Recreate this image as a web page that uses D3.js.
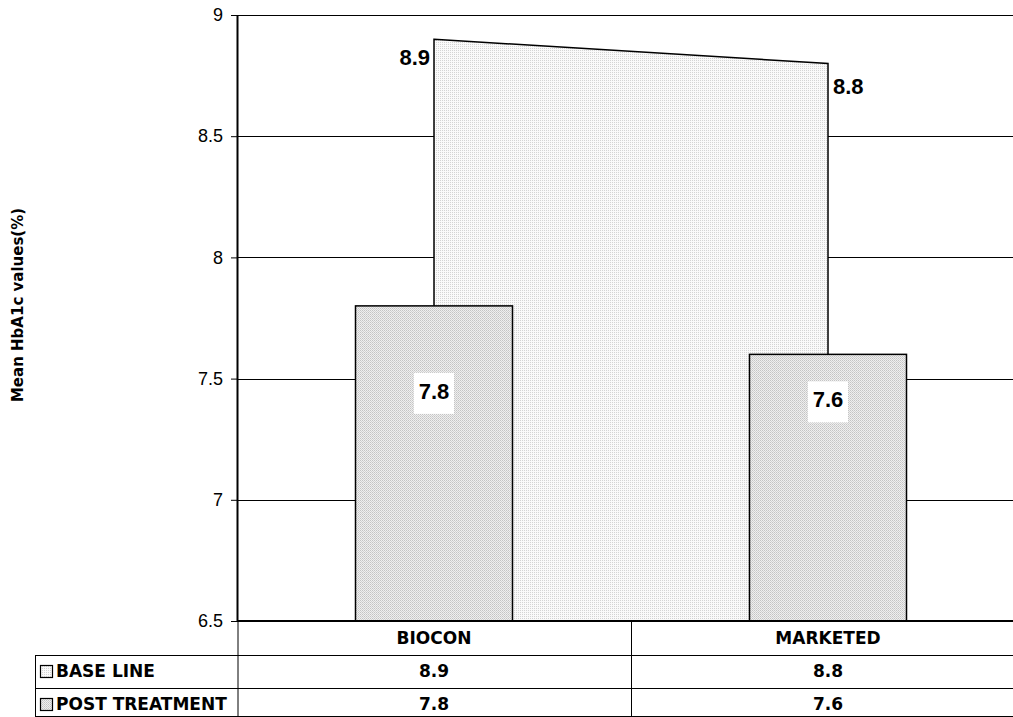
<!DOCTYPE html>
<html>
<head>
<meta charset="utf-8">
<script src="https://cdn.jsdelivr.net/npm/d3@7"></script>
<style>
  body { margin: 0; background: #fff; }
  svg { display: block; }
</style>
</head>
<body>
<svg width="1013" height="717"></svg>
<script>
// data
var categories = ['BIOCON', 'MARKETED'];
var baseLine = [8.9, 8.8];
var postTreatment = [7.8, 7.6];
var seriesNames = ['BASE LINE', 'POST TREATMENT'];
var yTicks = [6.5, 7, 7.5, 8, 8.5, 9];

var svg = d3.select('svg');
var plotLeft = 237, plotRight = 1025, plotTop = 15, plotBottom = 621;

var defs = svg.append('defs');
// light stipple for the area
var p1 = defs.append('pattern').attr('id', 'dotsLight')
  .attr('width', 2).attr('height', 2).attr('patternUnits', 'userSpaceOnUse');
p1.append('rect').attr('width', 2).attr('height', 2).attr('fill', '#fafafa');
p1.append('rect').attr('width', 1).attr('height', 1).attr('fill', '#d4d4d4');
// darker stipple for bars
var p2 = defs.append('pattern').attr('id', 'dotsDark')
  .attr('width', 2).attr('height', 2).attr('patternUnits', 'userSpaceOnUse');
p2.append('rect').attr('width', 2).attr('height', 2).attr('fill', '#efefef');
p2.append('rect').attr('width', 1).attr('height', 1).attr('fill', '#c4c4c4');
p2.append('rect').attr('x', 1).attr('y', 1).attr('width', 1).attr('height', 1).attr('fill', '#d2d2d2');

var x = d3.scaleBand().domain(categories).range([plotLeft, plotRight]);
var y = d3.scaleLinear().domain([6.5, 9]).range([plotBottom, plotTop]);
var cx = function (d) { return x(d) + x.bandwidth() / 2; };

// gridlines
svg.append('g').selectAll('line').data(yTicks.slice(1)).enter().append('line')
  .attr('x1', plotLeft).attr('x2', plotRight)
  .attr('y1', function (d) { return Math.round(y(d)) + 0.5; })
  .attr('y2', function (d) { return Math.round(y(d)) + 0.5; })
  .attr('stroke', '#000').attr('stroke-width', 1);

// y axis
var yAxis = svg.append('g').attr('transform', 'translate(' + plotLeft + ',0)')
  .call(d3.axisLeft(y).tickValues(yTicks).tickSize(6).tickPadding(8).tickFormat(d3.format('')));
yAxis.select('.domain').attr('stroke-width', 2).attr('d', 'M0.5,' + plotTop + 'V' + plotBottom);
yAxis.selectAll('text')
  .style('font-family', '"Liberation Sans", Arial, sans-serif')
  .style('font-size', '18px').attr('fill', '#000');

// base line area
var pts = categories.map(function (c, i) { return [cx(c), y(baseLine[i])]; });
var area = d3.area().x(function (d) { return d[0]; }).y0(plotBottom).y1(function (d) { return d[1]; });
svg.append('path').datum(pts).attr('d', area)
  .attr('fill', 'url(#dotsLight)').attr('stroke', '#000').attr('stroke-width', 1.5);

// post treatment bars
var bw = 157;
svg.append('g').selectAll('rect').data(categories).enter().append('rect')
  .attr('x', function (d) { return cx(d) - bw / 2; })
  .attr('y', function (d, i) { return y(postTreatment[i]); })
  .attr('width', bw)
  .attr('height', function (d, i) { return plotBottom - y(postTreatment[i]); })
  .attr('fill', 'url(#dotsDark)').attr('stroke', '#000').attr('stroke-width', 1.5);

// x axis line
svg.append('line').attr('x1', plotLeft).attr('x2', plotRight).attr('y1', plotBottom).attr('y2', plotBottom)
  .attr('stroke', '#000').attr('stroke-width', 2);

// data labels
var lblFont = '"Liberation Sans", Arial, sans-serif';
svg.append('text').attr('x', cx(categories[0]) - 4).attr('y', y(baseLine[0]) + 26)
  .attr('text-anchor', 'end').style('font-family', lblFont).style('font-weight', 'bold')
  .style('font-size', '22px').text(baseLine[0]);
svg.append('text').attr('x', cx(categories[1]) + 5).attr('y', y(baseLine[1]) + 30.5)
  .attr('text-anchor', 'start').style('font-family', lblFont).style('font-weight', 'bold')
  .style('font-size', '22px').text(baseLine[1]);
var barLabelOffset = [93, 53];
categories.forEach(function (c, i) {
  var ly = y(postTreatment[i]) + barLabelOffset[i];
  svg.append('rect').attr('x', cx(c) - 20).attr('y', ly - 26).attr('width', 40).attr('height', 41)
    .attr('fill', '#fff');
  svg.append('text').attr('x', cx(c)).attr('y', ly)
    .attr('text-anchor', 'middle').style('font-family', lblFont).style('font-weight', 'bold')
    .style('font-size', '22px').text(postTreatment[i]);
});

// y axis title
svg.append('text').attr('transform', 'translate(23,305) rotate(-90)')
  .attr('text-anchor', 'middle').style('font-family', '"DejaVu Sans", Verdana, sans-serif')
  .style('font-weight', 'bold').style('font-size', '15px').text('Mean HbA1c values(%)');

// data table
var tblFont = '"DejaVu Sans", Verdana, sans-serif';
var rowY = [plotBottom, 655, 688, 716];
var tableLeft = 35;
var t = svg.append('g');
t.append('line').attr('x1', plotLeft + 1).attr('x2', plotLeft + 1).attr('y1', plotBottom).attr('y2', 717)
  .attr('stroke', '#000').attr('stroke-width', 1);
t.append('line').attr('x1', x(categories[1]) + 0.5).attr('x2', x(categories[1]) + 0.5).attr('y1', plotBottom).attr('y2', 717)
  .attr('stroke', '#000').attr('stroke-width', 1);
t.append('line').attr('x1', tableLeft + 0.5).attr('x2', tableLeft + 0.5).attr('y1', rowY[1]).attr('y2', 717)
  .attr('stroke', '#000').attr('stroke-width', 1);
[rowY[1], rowY[2], rowY[3]].forEach(function (yy) {
  t.append('line').attr('x1', tableLeft).attr('x2', plotRight).attr('y1', yy + 0.5).attr('y2', yy + 0.5)
    .attr('stroke', '#000').attr('stroke-width', 1);
});
categories.forEach(function (c) {
  t.append('text').attr('x', cx(c)).attr('y', rowY[0] + 23)
    .attr('text-anchor', 'middle').style('font-family', tblFont).style('font-weight', 'bold')
    .style('font-size', '17px').text(c);
});
var rows = [baseLine, postTreatment];
var keyFill = ['url(#dotsLight)', 'url(#dotsDark)'];
rows.forEach(function (vals, r) {
  var base = rowY[r + 1] + 22;
  t.append('rect').attr('x', 40.5).attr('y', base - 11.5).attr('width', 12).attr('height', 12)
    .attr('fill', keyFill[r]).attr('stroke', '#000').attr('stroke-width', 1.2);
  t.append('text').attr('x', 56).attr('y', base)
    .style('font-family', tblFont).style('font-weight', 'bold').style('font-size', '17px')
    .text(seriesNames[r]);
  vals.forEach(function (v, i) {
    t.append('text').attr('x', cx(categories[i])).attr('y', base)
      .attr('text-anchor', 'middle').style('font-family', tblFont).style('font-weight', 'bold')
      .style('font-size', '17px').text(v);
  });
});
</script>
</body>
</html>
